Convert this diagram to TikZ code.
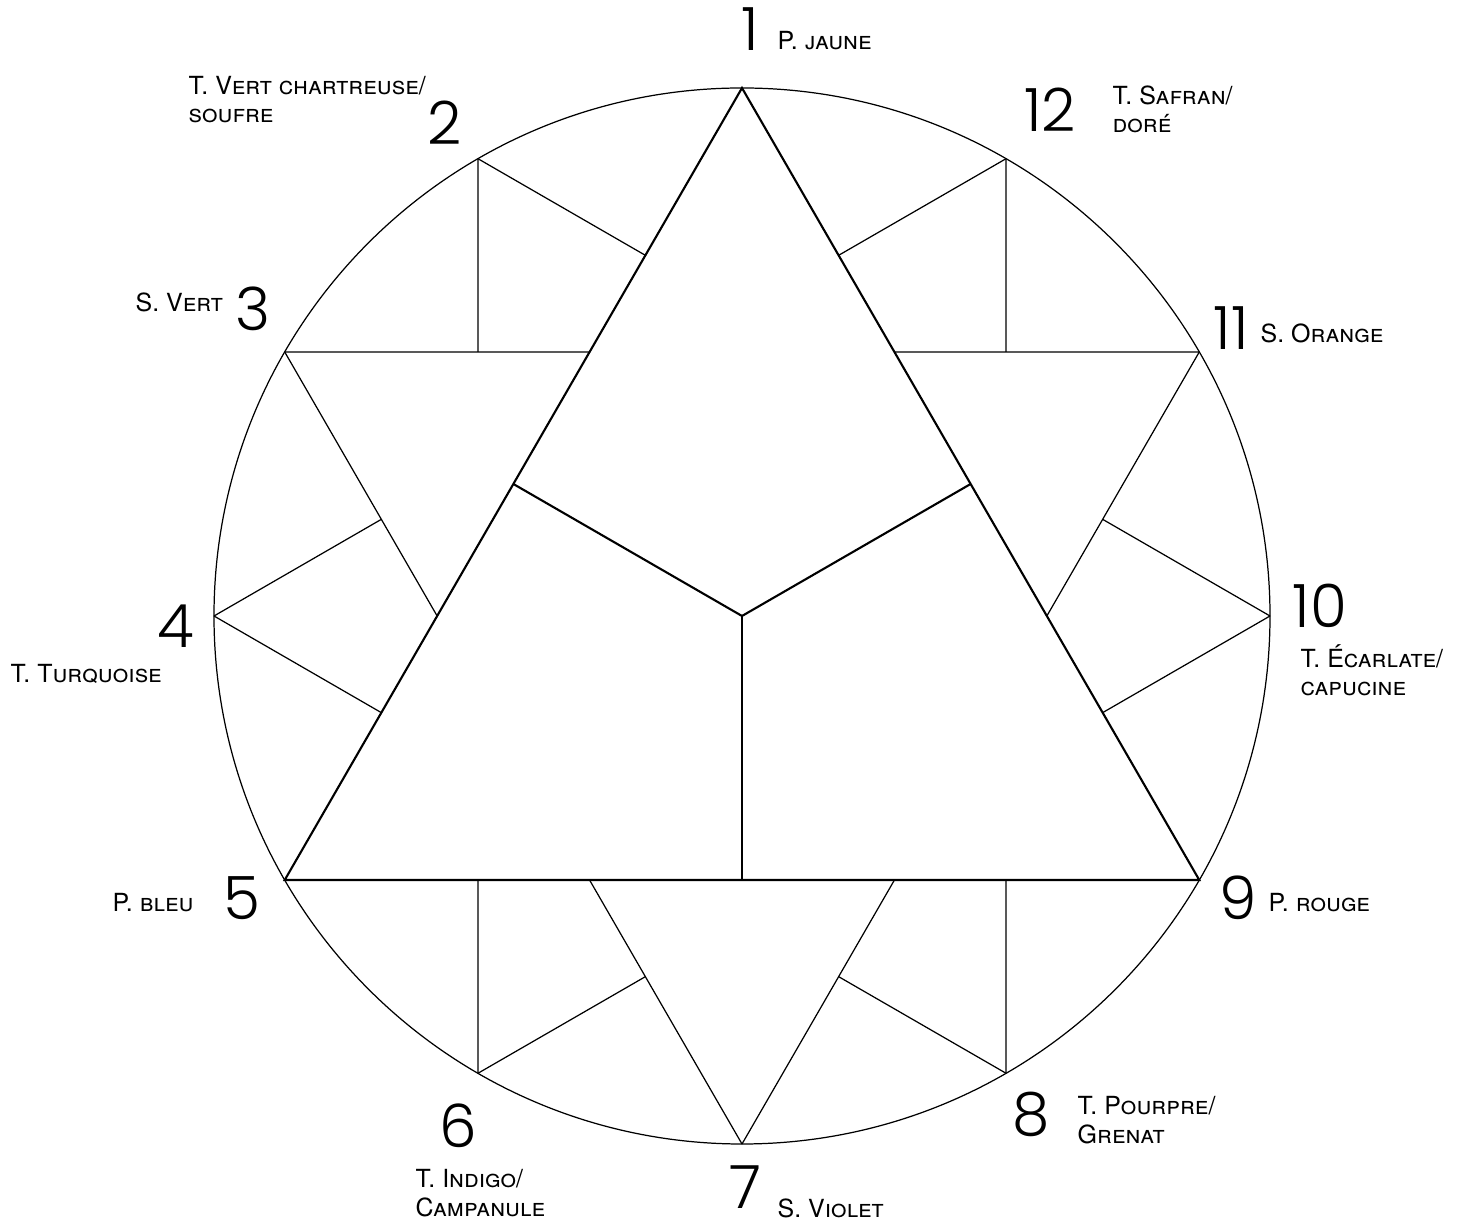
\documentclass[tikz,border=0pt]{standalone}
\usepackage{fontspec}
\setmainfont{TeX Gyre Heros}
\IfFontExistsTF{Poppins Light}
	{\newfontfamily\numfont[Numbers=Proportional]{Poppins Light}}
	{\newfontfamily\numfont{DejaVu Sans ExtraLight}}

\begin{document}
\begin{tikzpicture}[
	main/.style={line width=0.6pt, draw=black},
	fine/.style={line width=0.35pt, draw=black},
	num/.style={font=\numfont\fontsize{17}{17}\selectfont, inner sep=0pt},
	lbl/.style={font=\fontsize{7.1}{8}\selectfont\scshape, inner sep=0pt, anchor=base west, align=left}
	]
	\useasboundingbox (-7.42,-6.09) rectangle (7.31,6.16);
	
	% Points on the circle (1 at the top, counter-clockwise)
	\coordinate (o) at (0,0);
	\foreach \k in {1,...,12}
		\coordinate (p\k) at ({60+30*\k}:5.28);
	
	% Circle
	\draw[fine] (o) circle (5.28);
	
	% Primary triangle and its three parts
	\draw[main] (p1) -- (p5) -- (p9) -- cycle;
	\coordinate (m15) at (150:2.64);
	\coordinate (m19) at (30:2.64);
	\coordinate (m59) at (270:2.64);
	\draw[main] (o) -- (m15);
	\draw[main] (o) -- (m19);
	\draw[main] (o) -- (m59);
	
	% Secondary triangle (3 - 7 - 11)
	\draw[fine] (p3) -- (intersection of p3--p11 and p1--p5);
	\draw[fine] (p11) -- (intersection of p11--p3 and p1--p9);
	\draw[fine] (p3) -- (intersection of p3--p7 and p1--p5);
	\draw[fine] (p11) -- (intersection of p11--p7 and p1--p9);
	\draw[fine] (p7) -- (intersection of p7--p3 and p5--p9);
	\draw[fine] (p7) -- (intersection of p7--p11 and p5--p9);
	
	% Tertiary points
	\draw[fine] (p2) -- (intersection of p2--p6 and p3--p11);
	\draw[fine] (p2) -- (intersection of p2--p10 and p1--p5);
	\draw[fine] (p12) -- (intersection of p12--p8 and p3--p11);
	\draw[fine] (p12) -- (intersection of p12--p4 and p1--p9);
	\draw[fine] (p10) -- (intersection of p10--p2 and p11--p7);
	\draw[fine] (p10) -- (intersection of p10--p6 and p1--p9);
	\draw[fine] (p4) -- (intersection of p4--p12 and p3--p7);
	\draw[fine] (p4) -- (intersection of p4--p8 and p1--p5);
	\draw[fine] (p6) -- (intersection of p6--p2 and p5--p9);
	\draw[fine] (p6) -- (intersection of p6--p10 and p3--p7);
	\draw[fine] (p8) -- (intersection of p8--p12 and p5--p9);
	\draw[fine] (p8) -- (intersection of p8--p4 and p11--p7);
	
	% Numbers
	\node[num] (n1) at (0.08,5.87) {1};
	\node[num] (n2) at (-2.97,4.93) {2};
	\node[num] (n3) at (-4.89,3.07) {3};
	\node[num] (n4) at (-5.66,-0.10) {4};
	\node[num] (n5) at (-5.00,-2.82) {5};
	\node[num] (n6) at (-2.84,-5.10) {6};
	\node[num] (n7) at (0.03,-5.71) {7};
	\node[num] (n8) at (2.89,-4.98) {8};
	\node[num] (n9) at (4.96,-2.82) {9};
	\node[num] (n10) at (5.78,0.10) {10};
	\node[num] (n11) at (4.89,2.88) {11};
	\node[num] (n12) at (3.08,5.06) {12};
	
	% Colour names (two-line names sit on their last line)
	\node[lbl] (l1) at (0.35,5.66) {P. jaune};
	\node[lbl] (l2) at (-5.54,4.93) {T. Vert chartreuse/\\soufre};
	\node[lbl] (l3) at (-6.07,3.04) {S. Vert};
	\node[lbl] (l4) at (-7.32,-0.67) {T. Turquoise};
	\node[lbl] (l5) at (-6.30,-2.96) {P. bleu};
	\node[lbl] (l6) at (-3.27,-6.00) {T. Indigo/\\Campanule};
	\node[lbl] (l7) at (0.35,-6.01) {S. Violet};
	\node[lbl] (l8) at (3.35,-5.27) {T. Pourpre/\\Grenat};
	\node[lbl] (l9) at (5.26,-2.96) {P. rouge};
	\node[lbl] (l10) at (5.58,-0.80) {T. Écarlate/\\capucine};
	\node[lbl] (l11) at (5.18,2.73) {S. Orange};
	\node[lbl] (l12) at (3.70,4.83) {T. Safran/\\doré};
\end{tikzpicture}
\end{document}
